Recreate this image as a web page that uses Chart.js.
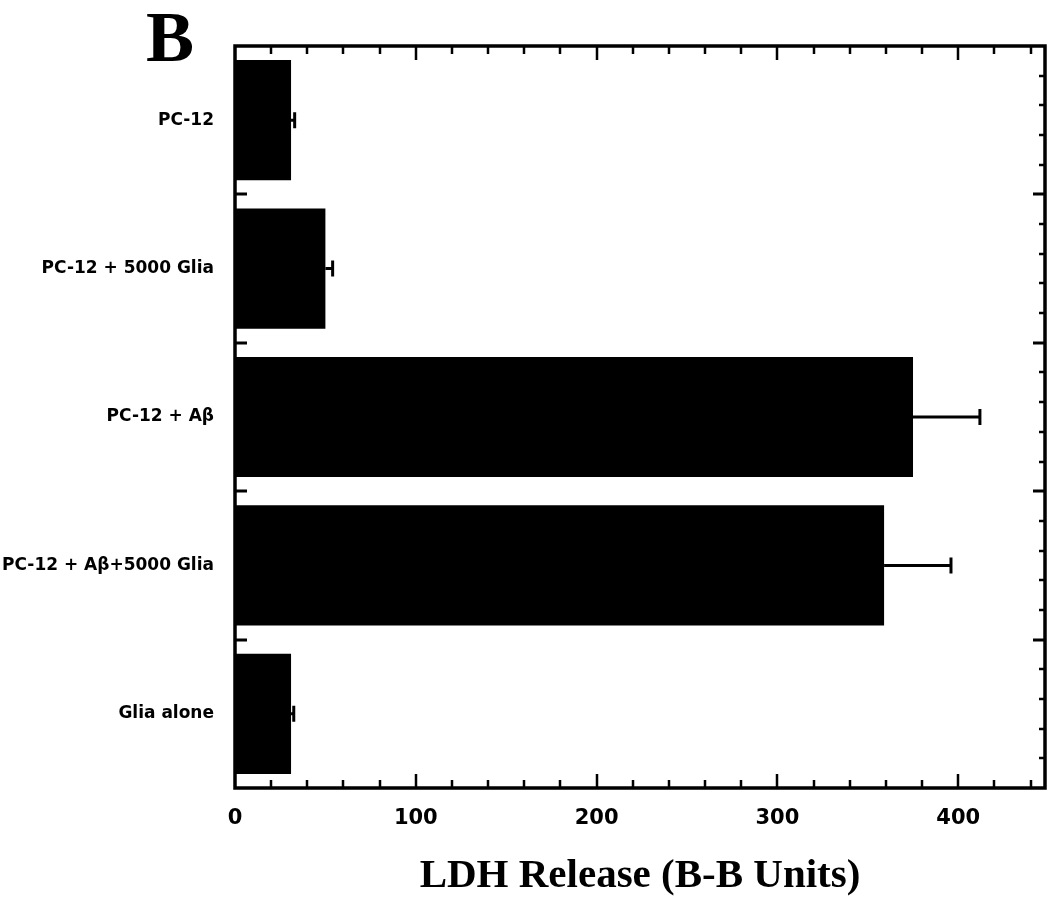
<!DOCTYPE html>
<html>
<head>
<meta charset="utf-8">
<script src="https://cdn.jsdelivr.net/npm/chart.js@4/dist/chart.umd.min.js"></script>
<style>
  html, body { margin: 0; padding: 0; background: #ffffff; }
  #wrap { width: 1053px; height: 902px; }
</style>
</head>
<body>
<div id="wrap"><canvas id="c" width="1053" height="902"></canvas></div>
<script>
// ---- data ----
const categories = ["PC-12", "PC-12 + 5000 Glia", "PC-12 + A\u03b2", "PC-12 + A\u03b2+5000 Glia", "Glia alone"];
const ldhValues  = [31, 50, 375, 359, 31];
const ldhErrors  = [2, 4, 37, 37, 1.5];
const xTickValues = [0, 100, 200, 300, 400];
const axisTitle = "LDH Release (B-B Units)";
const panelLetter = "B";

// ---- plugins ----
const frameAndTicks = {
  id: 'frameAndTicks',
  afterDraw(chart, args, opts) {
    const ctx = chart.ctx, ca = chart.chartArea;
    const xs = chart.scales.x, ys = chart.scales.y;
    ctx.save();
    ctx.strokeStyle = '#000';
    // minor/major ticks on x (top & bottom), pointing inward
    ctx.lineWidth = 2.5;
    for (let v = opts.xMinorStep; v < xs.max; v += opts.xMinorStep) {
      const px = Math.round(xs.getPixelForValue(v));
      const major = Math.abs(v % 100) < 1e-6;
      const len = major ? 14 : 8;
      ctx.beginPath();
      ctx.moveTo(px, ca.bottom); ctx.lineTo(px, ca.bottom - len);
      ctx.moveTo(px, ca.top); ctx.lineTo(px, ca.top + len);
      ctx.stroke();
    }
    // ticks on y (left & right), pointing inward
    const n = categories.length;
    for (let k = 1; k < n * opts.ySub; k++) {
      const val = -0.5 + k / opts.ySub;
      const py = Math.round(ys.getPixelForValue(val));
      const major = k % opts.ySub === 0;
      const len = major ? 12 : 6;
      ctx.lineWidth = major ? 3 : 2.5;
      ctx.beginPath();
      ctx.moveTo(ca.left, py); ctx.lineTo(ca.left + len, py);
      ctx.moveTo(ca.right, py); ctx.lineTo(ca.right - len, py);
      ctx.stroke();
    }
    // frame
    ctx.lineWidth = 3.5;
    ctx.strokeRect(ca.left, ca.top, ca.right - ca.left, ca.bottom - ca.top);
    // panel letter
    ctx.fillStyle = '#000';
    ctx.font = 'bold 72px "Liberation Serif", "DejaVu Serif", serif';
    ctx.textAlign = 'center';
    ctx.textBaseline = 'alphabetic';
    ctx.fillText(panelLetter, 170, 61);
    ctx.restore();
  }
};

const errorBars = {
  id: 'errorBars',
  afterDatasetsDraw(chart) {
    const ctx = chart.ctx, xs = chart.scales.x;
    const meta = chart.getDatasetMeta(0);
    ctx.save();
    ctx.strokeStyle = '#000';
    ctx.lineWidth = 3;
    meta.data.forEach((bar, i) => {
      const x0 = xs.getPixelForValue(ldhValues[i]);
      const x1 = xs.getPixelForValue(ldhValues[i] + ldhErrors[i]);
      const y = bar.y;
      ctx.beginPath();
      ctx.moveTo(x0, y); ctx.lineTo(x1, y);
      ctx.moveTo(x1, y - 8); ctx.lineTo(x1, y + 8);
      ctx.stroke();
    });
    ctx.restore();
  }
};

new Chart(document.getElementById('c'), {
  type: 'bar',
  data: {
    labels: categories,
    datasets: [{
      data: ldhValues,
      backgroundColor: '#000000',
      borderWidth: 0,
      barPercentage: 0.81,
      categoryPercentage: 1.0
    }]
  },
  options: {
    indexAxis: 'y',
    responsive: false,
    devicePixelRatio: 1,
    animation: false,
    layout: { padding: { top: 46, right: 8, left: 0, bottom: 0 } },
    plugins: {
      legend: { display: false },
      tooltip: { enabled: false },
      frameAndTicks: { xMinorStep: 20, ySub: 5 }
    },
    scales: {
      x: {
        type: 'linear',
        position: 'bottom',
        min: 0,
        max: 448,
        afterFit(scale) { scale.height = 114; },
        afterBuildTicks(scale) { scale.ticks = xTickValues.map(v => ({ value: v })); },
        grid: { display: false, drawTicks: false },
        border: { display: false },
        ticks: {
          color: '#000',
          padding: 18,
          autoSkip: false,
          maxRotation: 0,
          font: { family: '"DejaVu Sans", sans-serif', size: 21, weight: 'bold' }
        },
        title: {
          display: true,
          text: axisTitle,
          color: '#000',
          font: { family: '"Liberation Serif", "Times New Roman", serif', size: 41, weight: 'bold' },
          padding: { top: 0, bottom: 1 }
        }
      },
      y: {
        type: 'category',
        position: 'left',
        afterFit(scale) { scale.width = 235; },
        grid: { display: false, drawTicks: false },
        border: { display: false },
        ticks: {
          color: '#000',
          padding: 21,
          autoSkip: false,
          font: { family: '"DejaVu Sans", sans-serif', size: 17, weight: 'bold' }
        }
      }
    }
  },
  plugins: [errorBars, frameAndTicks]
});
</script>
</body>
</html>
